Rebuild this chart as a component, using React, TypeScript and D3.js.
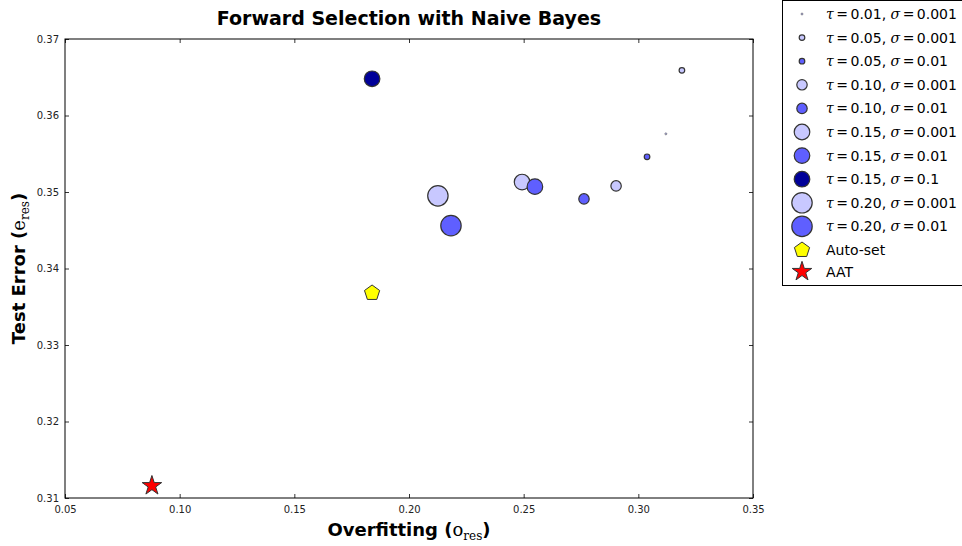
import React, { useRef, useEffect } from "react";
import * as d3 from "d3";

// series
const seriesNames = [
  "0.01|0.001", "0.05|0.001", "0.05|0.01", "0.10|0.001", "0.10|0.01",
  "0.15|0.001", "0.15|0.01", "0.15|0.1", "0.20|0.001", "0.20|0.01",
];
const overfit = [0.312, 0.319, 0.3038, 0.2903, 0.2763, 0.2493, 0.2549, 0.1839, 0.2126, 0.2183];
const testErr = [0.3576, 0.3659, 0.3546, 0.3508, 0.3491, 0.3513, 0.3507, 0.3648, 0.3495, 0.3456];
const radius = [1, 2.8, 2.8, 5.2, 5.2, 7.8, 7.8, 7.8, 10.2, 10.2];
const fills = ["#c8c8ff", "#c8c8ff", "#5f5fff", "#c8c8ff", "#5f5fff", "#c8c8ff", "#5f5fff", "#000099", "#c8c8ff", "#5f5fff"];

const autoSet = [0.1839, 0.3368];
const aat = [0.0879, 0.3116];

const xTicks = [0.05, 0.1, 0.15, 0.2, 0.25, 0.3, 0.35];
const yTicks = [0.31, 0.32, 0.33, 0.34, 0.35, 0.36, 0.37];

const pentagon = {
  draw(ctx: any, size: number) {
    const r = Math.sqrt(size);
    for (let i = 0; i < 5; i++) {
      const a = -Math.PI / 2 + (i * 2 * Math.PI) / 5;
      const px = r * Math.cos(a), py = r * Math.sin(a);
      if (i === 0) ctx.moveTo(px, py); else ctx.lineTo(px, py);
    }
    ctx.closePath();
  },
};

export default function App() {
  const svgRef = useRef<SVGSVGElement>(null);

  useEffect(() => {
    const svg = d3.select(svgRef.current);
    svg.selectAll("*").remove();
    const L = 65, R = 753, T = 39, B = 498;
    const x = d3.scaleLinear().domain([0.05, 0.35]).range([L, R]);
    const y = d3.scaleLinear().domain([0.31, 0.37]).range([B, T]);
    const font = "DejaVu Sans, sans-serif";
    const serif = "DejaVu Serif, serif";

    // ticks (inward, all four sides)
    const gx = svg.append("g").attr("transform", `translate(0,${B})`)
      .call(d3.axisBottom(x).tickValues(xTicks).tickSize(-4).tickPadding(6).tickFormat(d3.format(".2f")));
    const gxt = svg.append("g").attr("transform", `translate(0,${T})`)
      .call(d3.axisTop(x).tickValues(xTicks).tickSize(-4).tickFormat(() => ""));
    const gy = svg.append("g").attr("transform", `translate(${L},0)`)
      .call(d3.axisLeft(y).tickValues(yTicks).tickSize(-4).tickPadding(6).tickFormat(d3.format(".2f")));
    const gyr = svg.append("g").attr("transform", `translate(${R},0)`)
      .call(d3.axisRight(y).tickValues(yTicks).tickSize(-4).tickFormat(() => ""));
    [gx, gxt, gy, gyr].forEach((g) => {
      g.select(".domain").remove();
      g.selectAll("line").attr("stroke", "#000").attr("stroke-width", 0.8);
      g.selectAll("text").attr("font-family", font).attr("font-size", 10).attr("fill", "#222");
    });
    gx.selectAll("text").attr("dy", "0.9em");

    svg.append("rect").attr("x", L).attr("y", T).attr("width", R - L).attr("height", B - T)
      .attr("fill", "none").attr("stroke", "#000").attr("stroke-width", 1);

    // points
    seriesNames.forEach((s, i) => {
      svg.append("circle").attr("cx", x(overfit[i])).attr("cy", y(testErr[i]))
        .attr("r", radius[i]).attr("fill", fills[i])
        .attr("stroke", "#333").attr("stroke-width", i === 0 ? 0.5 : 1.2);
    });
    svg.append("path").attr("d", d3.symbol(pentagon as any, 64)())
      .attr("transform", `translate(${x(autoSet[0])},${y(autoSet[1])})`)
      .attr("fill", "#ffff00").attr("stroke", "#333").attr("stroke-width", 1);
    svg.append("path").attr("d", d3.symbol(d3.symbolStar, 118)())
      .attr("transform", `translate(${x(aat[0])},${y(aat[1])})`)
      .attr("fill", "#ff0000").attr("stroke", "#333").attr("stroke-width", 1);

    // title + axis labels
    svg.append("text").attr("x", (L + R) / 2).attr("y", 25).attr("text-anchor", "middle")
      .attr("font-family", font).attr("font-weight", "bold").attr("font-size", 19).text("Forward Selection with Naive Bayes");

    const xl = svg.append("text").attr("x", (L + R) / 2).attr("y", 536).attr("text-anchor", "middle")
      .attr("font-family", font).attr("font-weight", "bold").attr("font-size", 18);
    xl.append("tspan").text("Overfitting (");
    xl.append("tspan").attr("font-family", serif).attr("font-weight", "normal").text("o");
    xl.append("tspan").attr("font-family", serif).attr("font-weight", "normal").attr("font-size", 12).attr("dy", 4).text("res");
    xl.append("tspan").attr("dy", -4).text(")");

    const yl = svg.append("text").attr("transform", `translate(25,${(T + B) / 2}) rotate(-90)`).attr("text-anchor", "middle")
      .attr("font-family", font).attr("font-weight", "bold").attr("font-size", 18);
    yl.append("tspan").text("Test Error (");
    yl.append("tspan").attr("font-family", serif).attr("font-weight", "normal").text("e");
    yl.append("tspan").attr("font-family", serif).attr("font-weight", "normal").attr("font-size", 12).attr("dy", 4).text("res");
    yl.append("tspan").attr("dy", -4).text(")");

    // legend
    const lg = svg.append("g");
    lg.append("rect").attr("x", 782.5).attr("y", 0.5).attr("width", 190).attr("height", 285)
      .attr("fill", "#fff").attr("stroke", "#000").attr("stroke-width", 1);
    const rowY = (i: number) => 14 + i * 23.6;
    seriesNames.forEach((s, i) => {
      const [tau, sig] = s.split("|");
      lg.append("circle").attr("cx", 802).attr("cy", rowY(i)).attr("r", radius[i])
        .attr("fill", fills[i]).attr("stroke", "#333").attr("stroke-width", i === 0 ? 0.5 : 1.2);
      const t = lg.append("text").attr("x", 826).attr("y", rowY(i) + 5).attr("font-family", font).attr("font-size", 14).attr("fill", "#000");
      t.append("tspan").attr("font-family", serif).attr("font-style", "italic").text("τ");
      t.append("tspan").attr("font-family", serif).attr("dx", 2.5).text("=");
      t.append("tspan").attr("dx", 2.5).text(tau + ", ");
      t.append("tspan").attr("font-family", serif).attr("font-style", "italic").text("σ");
      t.append("tspan").attr("font-family", serif).attr("dx", 2.5).text("=");
      t.append("tspan").attr("dx", 2.5).text(sig);
    });
    const i1 = seriesNames.length;
    lg.append("path").attr("d", d3.symbol(pentagon as any, 64)())
      .attr("transform", `translate(802,${rowY(i1)})`).attr("fill", "#ffff00").attr("stroke", "#333");
    lg.append("text").attr("x", 826).attr("y", rowY(i1) + 5).attr("font-family", font).attr("font-size", 14).text("Auto-set");
    lg.append("path").attr("d", d3.symbol(d3.symbolStar, 118)())
      .attr("transform", `translate(802,${rowY(i1 + 1) - 2})`).attr("fill", "#ff0000").attr("stroke", "#333");
    lg.append("text").attr("x", 826).attr("y", rowY(i1 + 1) + 3).attr("font-family", font).attr("font-size", 14).text("AAT");
  }, []);

  return (
    <div style={{ position: "absolute", left: 0, top: 0 }}>
      <svg ref={svgRef} width={962} height={546} style={{ display: "block", background: "#fff" }} />
    </div>
  );
}
